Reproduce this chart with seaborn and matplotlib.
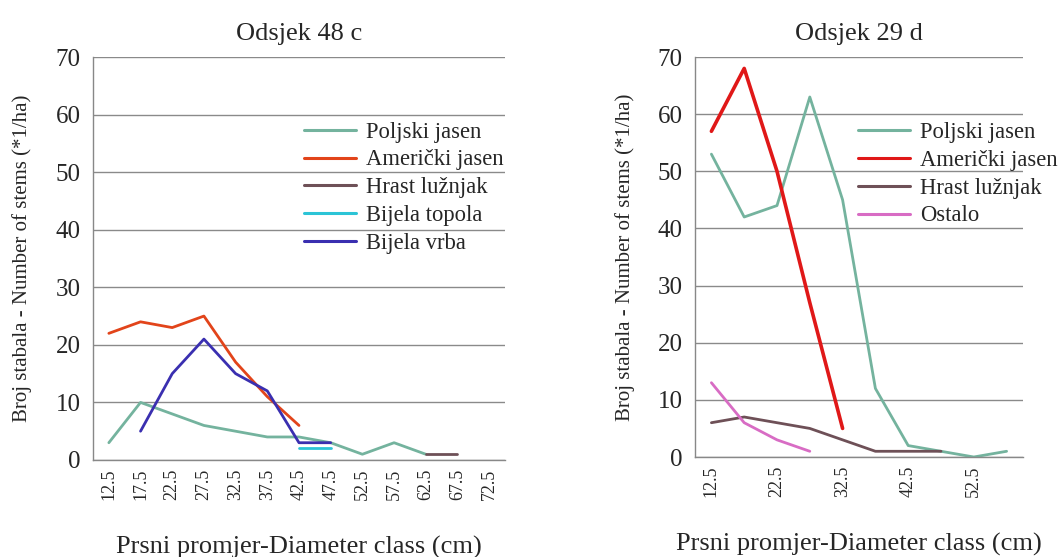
import numpy as np
import pandas as pd
import matplotlib
matplotlib.use("Agg")
import matplotlib.pyplot as plt
import seaborn as sns

# diameter classes (cm)
classes_48c = [12.5, 17.5, 22.5, 27.5, 32.5, 37.5, 42.5, 47.5, 52.5, 57.5, 62.5, 67.5, 72.5]
classes_29d = [12.5, 17.5, 22.5, 27.5, 32.5, 37.5, 42.5, 47.5, 52.5, 57.5]

# Odsjek 48 c, stems per ha (None = no trees)
poljski_48c = [3, 10, 8, 6, 5, 4, 4, 3, 1, 3, 1, None, None]
americki_48c = [22, 24, 23, 25, 17, 11, 6, None, None, None, None, None, None]
hrast_48c = [None, None, None, None, None, None, None, None, None, None, 1, 1, None]
topola_48c = [None, None, None, None, None, None, 2, 2, None, None, None, None, None]
vrba_48c = [None, 5, 15, 21, 15, 12, 3, 3, None, None, None, None, None]

# Odsjek 29 d
poljski_29d = [53, 42, 44, 63, 45, 12, 2, 1, 0, 1]
americki_29d = [57, 68, 50, 27, 5, None, None, None, None, None]
hrast_29d = [6, 7, 6, 5, 3, 1, 1, 1, None, None]
ostalo_29d = [13, 6, 3, 1, None, None, None, None, None, None]

colors = {
    "Poljski jasen": "#74b39e",
    "Američki jasen": "#e2441a",
    "Hrast lužnjak": "#6e5057",
    "Bijela topola": "#2cc4d6",
    "Bijela vrba": "#3a2fb0",
    "Ostalo": "#d86cc4",
}
red_29d = "#e01818"


def to_long(classes, series):
    rows = []
    for name, vals in series.items():
        for d, v in zip(classes, vals):
            if v is not None:
                rows.append({"d": d, "n": v, "vrsta": name})
    return pd.DataFrame(rows)


df48 = to_long(classes_48c, {
    "Poljski jasen": poljski_48c,
    "Američki jasen": americki_48c,
    "Hrast lužnjak": hrast_48c,
    "Bijela topola": topola_48c,
    "Bijela vrba": vrba_48c,
})
df29 = to_long(classes_29d, {
    "Poljski jasen": poljski_29d,
    "Američki jasen": americki_29d,
    "Hrast lužnjak": hrast_29d,
    "Ostalo": ostalo_29d,
})

sns.set_style("white")
plt.rcParams["font.family"] = ["Liberation Serif", "DejaVu Serif"]

fig = plt.figure(figsize=(10.62, 5.57), dpi=100)
ax1 = fig.add_axes([93 / 1062, 1 - 460 / 557, 412 / 1062, 403 / 557])
ax2 = fig.add_axes([695 / 1062, 1 - 457 / 557, 328 / 1062, 400 / 557])


def style_axis(ax, classes, labels, title, leg_anchor, ylabelpad):
    lo = classes[0] - 2.5
    hi = classes[-1] + 2.5
    ax.set_xlim(lo, hi)
    ax.set_ylim(0, 70)
    ax.set_yticks(range(0, 71, 10))
    ax.yaxis.grid(True, color="#8a8a8a", linewidth=1.0)
    ax.set_axisbelow(True)
    ax.set_xticks(np.arange(lo, hi + 0.1, 5))
    ax.set_xticklabels([])
    ax.set_xticks(labels, minor=True)
    ax.set_xticklabels([f"{v:.1f}" for v in labels], minor=True, rotation=90, fontsize=13)
    ax.tick_params(axis="x", which="major", length=5, color="#888888", direction="out")
    ax.tick_params(axis="x", which="minor", length=0, pad=6)
    ax.tick_params(axis="y", length=5, color="#888888", labelsize=18, pad=4)
    for s in ["top", "right"]:
        ax.spines[s].set_visible(False)
    for s in ["left", "bottom"]:
        ax.spines[s].set_color("#888888")
        ax.spines[s].set_linewidth(1.0)
    ax.set_title(title, fontsize=19, pad=12)
    ax.set_xlabel("Prsni promjer-Diameter class (cm)", fontsize=19, labelpad=26)
    ax.set_ylabel("Broj stabala - Number of stems (*1/ha)", fontsize=15, labelpad=ylabelpad)
    leg = ax.legend(loc="upper left", bbox_to_anchor=leg_anchor, frameon=False,
                    fontsize=16.3, handlelength=2.3, handletextpad=0.45,
                    labelspacing=0.3, borderaxespad=0)
    for line in leg.get_lines():
        line.set_linewidth(2.2)
    return leg


sns.lineplot(data=df48, x="d", y="n", hue="vrsta", palette=colors, linewidth=2.0, ax=ax1)
style_axis(ax1, classes_48c, classes_48c, "Odsjek 48 c", (0.49, 0.862), 17)

sns.lineplot(data=df29, x="d", y="n", hue="vrsta", palette=colors, linewidth=2.0, ax=ax2)
for line in ax2.get_lines():
    if line.get_color() == colors["Američki jasen"]:
        line.set_color(red_29d)
        line.set_linewidth(2.6)
leg2 = style_axis(ax2, classes_29d, classes_29d[::2], "Odsjek 29 d", (0.47, 0.86), 16)
for line in leg2.get_lines():
    if line.get_color() == colors["Američki jasen"]:
        line.set_color(red_29d)

fig.savefig("out.png", dpi=100, facecolor="white")
